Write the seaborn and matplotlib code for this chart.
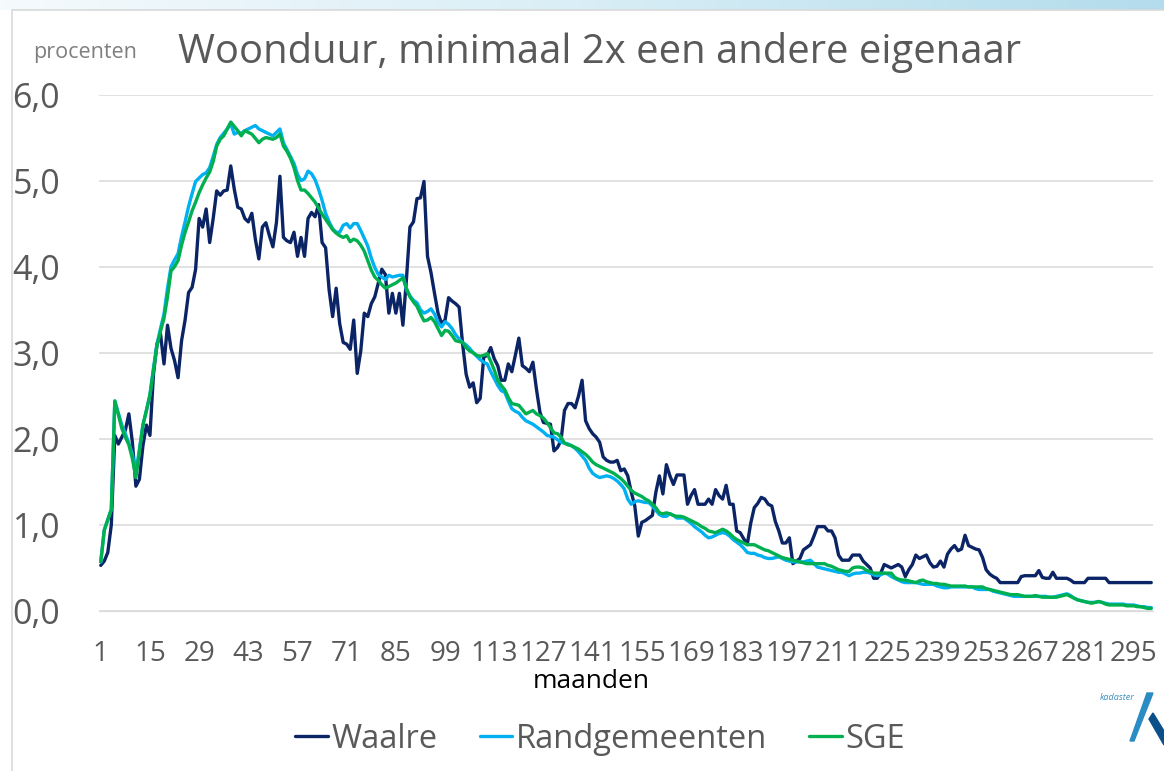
import pandas as pd
import matplotlib
matplotlib.use("Agg")
import matplotlib.pyplot as plt
import numpy as np
import seaborn as sns
from matplotlib.lines import Line2D
from matplotlib.patches import Polygon, Rectangle, Circle

# Aandeel (procenten) per maand woonduur, maand 1 t/m 300
waalre = [
    0.53, 0.58, 0.68, 1.00, 2.04, 1.94, 2.02, 2.10, 2.29, 1.96,
    1.45, 1.53, 1.92, 2.16, 2.04, 2.75, 3.10, 3.22, 2.87, 3.32,
    3.05, 2.91, 2.71, 3.14, 3.38, 3.70, 3.76, 3.97, 4.56, 4.46,
    4.67, 4.28, 4.56, 4.88, 4.83, 4.88, 4.89, 5.17, 4.90, 4.69,
    4.67, 4.56, 4.52, 4.62, 4.32, 4.09, 4.46, 4.51, 4.36, 4.23,
    4.51, 5.05, 4.34, 4.30, 4.28, 4.40, 4.12, 4.34, 4.12, 4.56,
    4.63, 4.58, 4.72, 4.28, 4.22, 3.73, 3.42, 3.75, 3.34, 3.12,
    3.10, 3.04, 3.38, 2.76, 3.02, 3.46, 3.42, 3.57, 3.65, 3.81,
    3.97, 3.91, 3.46, 3.69, 3.46, 3.69, 3.32, 3.85, 4.46, 4.52,
    4.79, 4.80, 4.99, 4.12, 3.93, 3.69, 3.46, 3.34, 3.38, 3.64,
    3.60, 3.57, 3.53, 3.10, 2.75, 2.60, 2.65, 2.42, 2.47, 2.95,
    2.97, 3.06, 2.93, 2.85, 2.68, 2.68, 2.87, 2.78, 2.97, 3.17,
    2.85, 2.82, 2.78, 2.89, 2.58, 2.31, 2.19, 2.18, 2.17, 1.86,
    1.90, 1.98, 2.33, 2.41, 2.41, 2.36, 2.50, 2.68, 2.21, 2.12,
    2.06, 2.02, 1.96, 1.79, 1.75, 1.73, 1.73, 1.75, 1.63, 1.65,
    1.57, 1.38, 1.22, 0.87, 1.03, 1.05, 1.08, 1.11, 1.38, 1.57,
    1.36, 1.70, 1.57, 1.47, 1.58, 1.58, 1.58, 1.24, 1.34, 1.41,
    1.24, 1.24, 1.24, 1.30, 1.24, 1.41, 1.34, 1.30, 1.46, 1.24,
    1.24, 0.93, 0.91, 0.84, 0.77, 1.02, 1.20, 1.25, 1.32, 1.30,
    1.24, 1.22, 1.04, 0.93, 0.79, 0.79, 0.85, 0.55, 0.58, 0.61,
    0.71, 0.74, 0.77, 0.87, 0.98, 0.98, 0.98, 0.93, 0.93, 0.85,
    0.65, 0.59, 0.59, 0.59, 0.65, 0.65, 0.65, 0.58, 0.54, 0.50,
    0.38, 0.38, 0.44, 0.54, 0.52, 0.50, 0.52, 0.54, 0.51, 0.40,
    0.48, 0.54, 0.65, 0.61, 0.63, 0.65, 0.56, 0.51, 0.52, 0.58,
    0.51, 0.66, 0.72, 0.76, 0.70, 0.72, 0.88, 0.76, 0.74, 0.72,
    0.71, 0.62, 0.48, 0.43, 0.40, 0.38, 0.33, 0.33, 0.33, 0.33,
    0.33, 0.33, 0.40, 0.41, 0.41, 0.41, 0.41, 0.47, 0.39, 0.38,
    0.38, 0.45, 0.38, 0.38, 0.38, 0.38, 0.36, 0.33, 0.33, 0.33,
    0.33, 0.38, 0.38, 0.38, 0.38, 0.38, 0.38, 0.33, 0.33, 0.33,
    0.33, 0.33, 0.33, 0.33, 0.33, 0.33, 0.33, 0.33, 0.33, 0.33,
]

randgemeenten = [
    0.57, 0.94, 1.06, 1.18, 2.44, 2.30, 2.16, 2.06, 1.95, 1.82,
    1.60, 1.88, 2.16, 2.33, 2.51, 2.82, 3.10, 3.28, 3.45, 3.75,
    4.00, 4.08, 4.15, 4.35, 4.52, 4.70, 4.85, 4.99, 5.03, 5.07,
    5.09, 5.15, 5.28, 5.42, 5.50, 5.55, 5.60, 5.66, 5.54, 5.56,
    5.55, 5.58, 5.60, 5.62, 5.64, 5.60, 5.58, 5.56, 5.54, 5.52,
    5.56, 5.60, 5.44, 5.36, 5.28, 5.20, 5.07, 5.00, 5.02, 5.11,
    5.08, 5.01, 4.90, 4.77, 4.62, 4.52, 4.44, 4.40, 4.40, 4.48,
    4.50, 4.45, 4.50, 4.50, 4.42, 4.33, 4.24, 4.10, 3.99, 3.91,
    3.88, 3.85, 3.90, 3.88, 3.89, 3.90, 3.90, 3.73, 3.66, 3.61,
    3.58, 3.50, 3.46, 3.48, 3.51, 3.45, 3.35, 3.30, 3.36, 3.33,
    3.28, 3.21, 3.16, 3.12, 3.09, 3.05, 3.00, 2.96, 2.92, 2.89,
    2.87, 2.78, 2.70, 2.62, 2.56, 2.54, 2.44, 2.35, 2.32, 2.30,
    2.25, 2.21, 2.19, 2.17, 2.14, 2.11, 2.08, 2.04, 2.03, 2.02,
    1.99, 1.96, 1.95, 1.94, 1.92, 1.89, 1.85, 1.80, 1.75, 1.66,
    1.60, 1.57, 1.55, 1.56, 1.57, 1.56, 1.54, 1.51, 1.47, 1.42,
    1.30, 1.24, 1.27, 1.28, 1.27, 1.26, 1.26, 1.22, 1.17, 1.12,
    1.10, 1.10, 1.13, 1.11, 1.08, 1.08, 1.08, 1.05, 1.02, 0.98,
    0.95, 0.92, 0.88, 0.85, 0.86, 0.88, 0.90, 0.91, 0.90, 0.87,
    0.83, 0.80, 0.77, 0.73, 0.68, 0.67, 0.67, 0.65, 0.64, 0.62,
    0.61, 0.61, 0.62, 0.63, 0.61, 0.59, 0.58, 0.57, 0.57, 0.57,
    0.57, 0.58, 0.59, 0.55, 0.51, 0.50, 0.49, 0.48, 0.47, 0.46,
    0.45, 0.45, 0.43, 0.41, 0.43, 0.44, 0.44, 0.45, 0.45, 0.44,
    0.42, 0.41, 0.42, 0.44, 0.43, 0.40, 0.38, 0.36, 0.34, 0.33,
    0.33, 0.33, 0.33, 0.32, 0.31, 0.31, 0.31, 0.31, 0.29, 0.28,
    0.27, 0.27, 0.28, 0.28, 0.28, 0.28, 0.28, 0.28, 0.28, 0.26,
    0.25, 0.25, 0.25, 0.25, 0.23, 0.22, 0.21, 0.20, 0.19, 0.18,
    0.17, 0.17, 0.17, 0.17, 0.17, 0.17, 0.17, 0.17, 0.17, 0.17,
    0.16, 0.16, 0.17, 0.18, 0.19, 0.20, 0.18, 0.15, 0.13, 0.12,
    0.11, 0.10, 0.10, 0.10, 0.11, 0.10, 0.09, 0.08, 0.08, 0.08,
    0.08, 0.08, 0.07, 0.07, 0.07, 0.06, 0.05, 0.05, 0.04, 0.04,
]

sge = [
    0.57, 0.94, 1.06, 1.18, 2.44, 2.28, 2.12, 2.02, 1.93, 1.77,
    1.55, 1.85, 2.16, 2.33, 2.51, 2.80, 3.08, 3.25, 3.40, 3.65,
    3.95, 4.00, 4.07, 4.25, 4.40, 4.52, 4.65, 4.75, 4.86, 4.95,
    5.03, 5.10, 5.22, 5.40, 5.48, 5.52, 5.60, 5.68, 5.63, 5.58,
    5.52, 5.58, 5.56, 5.54, 5.49, 5.44, 5.48, 5.50, 5.49, 5.48,
    5.50, 5.54, 5.40, 5.34, 5.26, 5.15, 5.00, 4.89, 4.89, 4.85,
    4.80, 4.75, 4.68, 4.61, 4.55, 4.49, 4.43, 4.39, 4.36, 4.34,
    4.36, 4.29, 4.32, 4.30, 4.25, 4.18, 4.07, 3.96, 3.88, 3.84,
    3.79, 3.75, 3.77, 3.79, 3.81, 3.84, 3.87, 3.75, 3.65, 3.59,
    3.54, 3.45, 3.37, 3.38, 3.41, 3.36, 3.28, 3.20, 3.26, 3.25,
    3.20, 3.14, 3.13, 3.12, 3.06, 3.02, 3.00, 2.97, 2.96, 2.97,
    2.99, 2.90, 2.80, 2.68, 2.62, 2.57, 2.48, 2.41, 2.40, 2.39,
    2.34, 2.29, 2.31, 2.33, 2.29, 2.27, 2.24, 2.19, 2.13, 2.07,
    2.06, 2.02, 1.95, 1.93, 1.92, 1.90, 1.88, 1.85, 1.82, 1.78,
    1.73, 1.70, 1.68, 1.66, 1.64, 1.62, 1.60, 1.57, 1.54, 1.50,
    1.45, 1.40, 1.37, 1.35, 1.33, 1.30, 1.28, 1.24, 1.20, 1.14,
    1.13, 1.14, 1.13, 1.11, 1.10, 1.10, 1.09, 1.07, 1.05, 1.03,
    1.01, 0.98, 0.96, 0.93, 0.92, 0.91, 0.93, 0.95, 0.93, 0.90,
    0.86, 0.83, 0.81, 0.79, 0.77, 0.77, 0.77, 0.75, 0.73, 0.71,
    0.70, 0.68, 0.66, 0.64, 0.62, 0.61, 0.60, 0.59, 0.58, 0.57,
    0.56, 0.55, 0.55, 0.55, 0.55, 0.55, 0.55, 0.53, 0.52, 0.50,
    0.48, 0.47, 0.46, 0.46, 0.50, 0.51, 0.51, 0.50, 0.47, 0.46,
    0.44, 0.44, 0.44, 0.44, 0.44, 0.44, 0.39, 0.37, 0.36, 0.36,
    0.35, 0.34, 0.33, 0.35, 0.36, 0.34, 0.33, 0.32, 0.32, 0.31,
    0.31, 0.30, 0.29, 0.29, 0.29, 0.29, 0.29, 0.28, 0.28, 0.28,
    0.28, 0.28, 0.26, 0.25, 0.24, 0.23, 0.22, 0.21, 0.20, 0.19,
    0.19, 0.19, 0.18, 0.17, 0.17, 0.17, 0.18, 0.17, 0.16, 0.16,
    0.16, 0.16, 0.16, 0.17, 0.18, 0.19, 0.17, 0.15, 0.13, 0.12,
    0.11, 0.10, 0.09, 0.10, 0.11, 0.10, 0.08, 0.07, 0.07, 0.07,
    0.07, 0.07, 0.06, 0.06, 0.06, 0.05, 0.05, 0.04, 0.03, 0.03,
]

maanden = list(range(1, 301))
gebieden = ["Waalre", "Randgemeenten", "SGE"]
kleuren = ["#0B2466", "#00B0F0", "#00B050"]
xticks = list(range(1, 300, 14))
yticks = [0, 1, 2, 3, 4, 5, 6]
ylabels = ["0,0", "1,0", "2,0", "3,0", "4,0", "5,0", "6,0"]

df = pd.DataFrame({"maand": maanden, "Waalre": waalre,
                   "Randgemeenten": randgemeenten, "SGE": sge})
df = df.melt(id_vars="maand", var_name="gebied", value_name="procent")

sns.set_style("white")
plt.rcParams["font.family"] = ["Open Sans", "DejaVu Sans"]

W, H = 1164, 771
fig = plt.figure(figsize=(W / 100, H / 100), dpi=100)

# slide header band + chart border
band = fig.add_axes([0, 1 - 10 / H, 1, 10 / H])
grad = np.linspace(0, 1, 256).reshape(1, -1)
band.imshow(grad, aspect="auto", extent=[0, 1, 0, 1],
            cmap=matplotlib.colors.LinearSegmentedColormap.from_list(
                "b", ["#f5fafd", "#d9eef6", "#b3dcec"]))
band.add_patch(Circle((60 / W, 1.1), 0.009, color="#1a8fcf",
                      transform=band.transAxes, clip_on=True))
band.axis("off")
fig.patches.append(Rectangle((12 / W, -0.1), 1.1, 1 - 10 / H + 0.1,
                             transform=fig.transFigure, fill=False,
                             edgecolor="#d9d9d9", linewidth=1.2))

ax = fig.add_axes([99 / W, 1 - 611 / H, (1153 - 99) / W, (611 - 94.5) / H])
sns.lineplot(data=df, x="maand", y="procent", hue="gebied", hue_order=gebieden,
             palette=kleuren, linewidth=2.4, legend=False, ax=ax)

ax.set_xlim(0.5, 300.5)
ax.set_ylim(0, 6)
ax.set_xticks(xticks)
ax.set_xticklabels([str(t) for t in xticks], fontsize=20, color="#595959")
ax.set_yticks(yticks)
ax.set_yticklabels(ylabels, fontsize=24.5, color="#595959")
ax.tick_params(axis="x", length=0, pad=21)
ax.tick_params(axis="y", length=0, pad=28)
ax.grid(axis="y", color="#d9d9d9", linewidth=1.1)
ax.set_axisbelow(True)
for s in ["top", "right", "left"]:
    ax.spines[s].set_visible(False)
ax.spines["bottom"].set_color("#d9d9d9")
ax.set_xlabel("")
ax.set_ylabel("")

fig.text(178 / W, 1 - 63 / H, "Woonduur, minimaal 2x een andere eigenaar",
         fontsize=28.8, color="#595959", ha="left", va="baseline")
fig.text(33 / W, 1 - 58 / H, "procenten", fontsize=15.5, color="#7f7f7f",
         ha="left", va="baseline")
fig.text(591 / W, 1 - 681 / H, "maanden", fontsize=19, color="black",
         ha="center", va="center")

handles = [Line2D([0], [0], color=c, linewidth=2.4) for c in kleuren]
leg = fig.legend(handles, gebieden, loc="center", bbox_to_anchor=(600 / W, 1 - 739 / H),
                 ncol=3, frameon=False, fontsize=23.5, handlelength=1.0,
                 handletextpad=0.1, columnspacing=1.3)
for t in leg.get_texts():
    t.set_color("#595959")

# kadaster logo
fig.text(1117 / W, 1 - 697 / H, "kadaster", fontsize=6.5, style="italic",
         color="#3d8fc0", ha="center", va="center")
fig.patches.append(Polygon([(1147 / W, 1 - 693 / H), (1153 / W, 1 - 693 / H),
                            (1134 / W, 1 - 741 / H), (1130 / W, 1 - 741 / H)],
                           closed=True, transform=fig.transFigure, color="#2b8cc4"))
fig.patches.append(Polygon([(1149 / W, 1 - 719 / H), (1153 / W, 1 - 713 / H),
                            (1164 / W, 1 - 731 / H), (1164 / W, 1 - 745 / H)],
                           closed=True, transform=fig.transFigure, color="#0b4f8a"))

fig.savefig("out.png", dpi=100)
